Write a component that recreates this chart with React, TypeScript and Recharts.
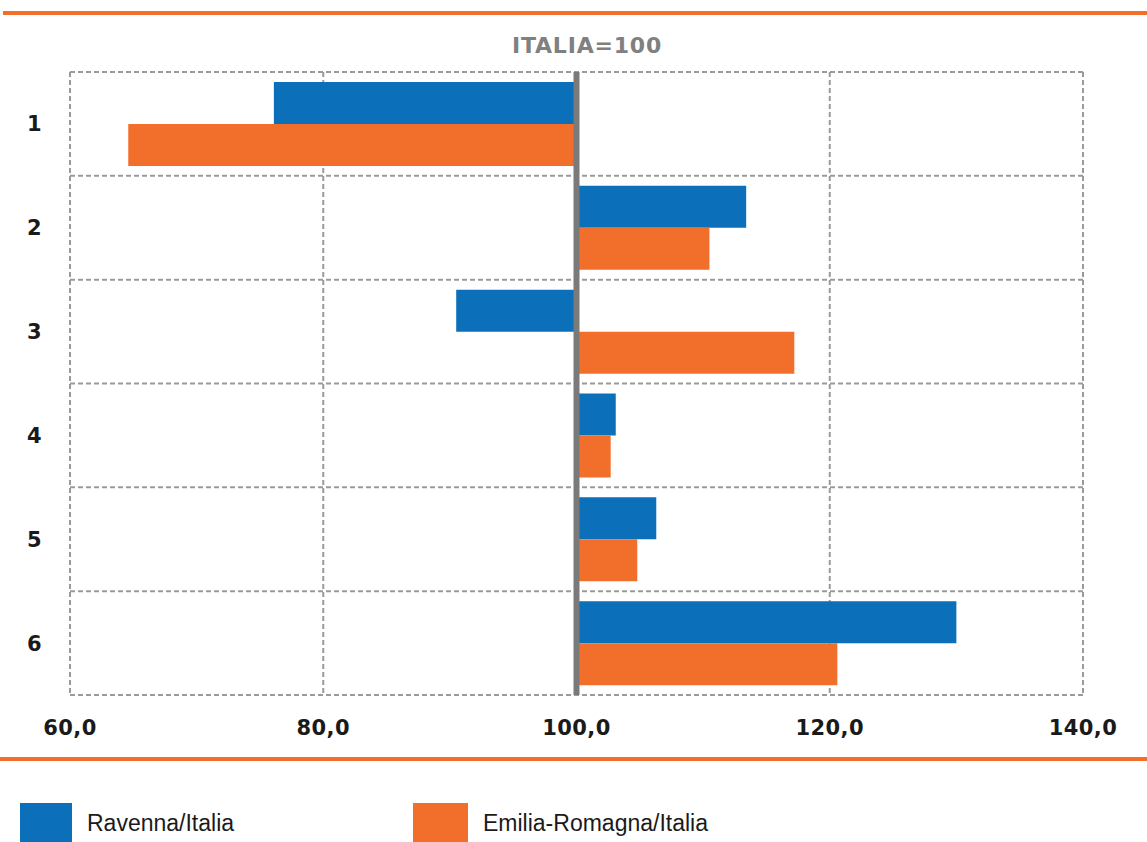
import React from "react";
import {
  Bar,
  BarChart,
  CartesianGrid,
  ReferenceLine,
  XAxis,
  YAxis,
} from "recharts";

const categories = ["1", "2", "3", "4", "5", "6"];
const ravenna = [76.1, 113.4, 90.5, 103.1, 106.3, 130.0];
const emilia = [64.6, 110.5, 117.2, 102.7, 104.8, 120.6];
const xTicks = [60, 80, 100, 120, 140];
const BASE = 100;

const BLUE = "#0b70b9";
const ORANGE = "#f26f2b";

const data = categories.map((cat, i) => ({
  cat,
  ravenna: [Math.min(BASE, ravenna[i]), Math.max(BASE, ravenna[i])],
  emilia: [Math.min(BASE, emilia[i]), Math.max(BASE, emilia[i])],
}));

const tickFont = {
  fontFamily: "DejaVu Sans",
  fontWeight: 700,
  fontSize: 21,
  letterSpacing: 0.4,
  fill: "#1a1a1a",
};

function fmt(v: number) {
  return v.toFixed(1).replace(".", ",");
}

export default function App() {
  return (
    <div
      style={{
        position: "absolute",
        left: 0,
        top: 0,
        width: 1147,
        height: 842,
        background: "#fff",
        overflow: "hidden",
      }}
    >
      <div style={{ position: "absolute", left: 3, top: 11, width: 1144, height: 4, background: ORANGE }} />
      <div style={{ position: "absolute", left: 0, width: 1174, top: 33, textAlign: "center" }}>
        <span
          style={{
            fontFamily: "DejaVu Sans",
            fontWeight: 700,
            fontSize: 22,
            letterSpacing: 0.8,
            color: "#808080",
          }}
        >
          ITALIA=100
        </span>
      </div>
      <BarChart
        width={1147}
        height={760}
        data={data}
        layout="vertical"
        margin={{ top: 72, right: 64, left: 0, bottom: 15 }}
        barCategoryGap={10}
        barGap={0}
        style={{ position: "absolute", left: 0, top: 0 }}
      >
        <CartesianGrid
          stroke="#9a9a9a"
          strokeWidth={2}
          strokeDasharray="5 3"
          horizontalCoordinatesGenerator={({ offset }: any) =>
            categories
              .map((_, i) => offset.top + (i * offset.height) / categories.length)
              .concat(offset.top + offset.height)
          }
        />
        <XAxis
          type="number"
          domain={[60, 140]}
          ticks={xTicks}
          tickFormatter={fmt}
          axisLine={false}
          tickLine={false}
          tickSize={0}
          tickMargin={25}
          height={50}
          tick={tickFont}
          interval={0}
        />
        <YAxis
          type="category"
          dataKey="cat"
          width={70}
          axisLine={false}
          tickLine={false}
          tickSize={0}
          tickMargin={28}
          tick={tickFont}
        />
        <Bar dataKey="ravenna" fill={BLUE} isAnimationActive={false} />
        <Bar dataKey="emilia" fill={ORANGE} isAnimationActive={false} />
        <ReferenceLine x={BASE} stroke="#7a7a7a" strokeWidth={6} />
      </BarChart>
      <div style={{ position: "absolute", left: 0, top: 757, width: 1147, height: 4, background: ORANGE }} />
      <div style={{ position: "absolute", left: 20, top: 803, width: 52, height: 50, background: BLUE }} />
      <div
        style={{
          position: "absolute",
          left: 87,
          top: 810,
          fontFamily: "Liberation Sans",
          fontSize: 23,
          color: "#1a1a1a",
        }}
      >
        Ravenna/Italia
      </div>
      <div style={{ position: "absolute", left: 413, top: 803, width: 55, height: 50, background: ORANGE }} />
      <div
        style={{
          position: "absolute",
          left: 483,
          top: 810,
          fontFamily: "Liberation Sans",
          fontSize: 23,
          color: "#1a1a1a",
        }}
      >
        Emilia-Romagna/Italia
      </div>
    </div>
  );
}
